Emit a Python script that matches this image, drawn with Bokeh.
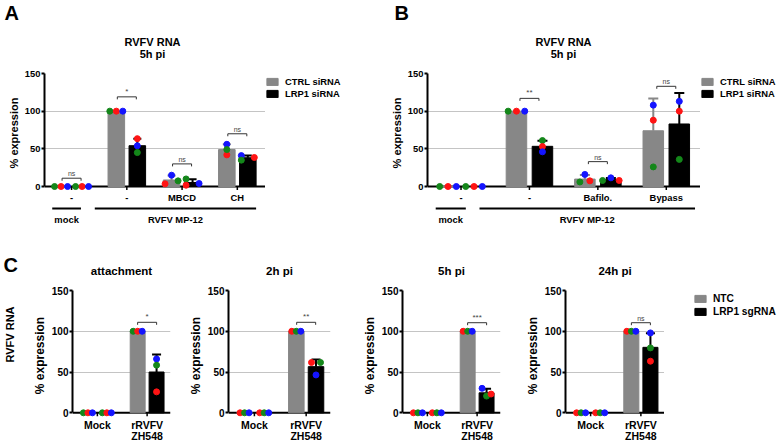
import numpy as np
from bokeh.plotting import figure
from bokeh.models import Range1d, FixedTicker, Span, Legend, LegendItem, ColumnDataSource, Spacer
from bokeh.layouts import row, column
from bokeh.embed import file_html
from bokeh.resources import INLINE
from bokeh.core.properties import value

FONT = "Liberation Sans"
GRAY = "#878787"
DOT = {"g": "#14871a", "r": "#ff1414", "b": "#1414ff"}

# ---------------- data: panel A ----------------
A_CATS = ["-", "-", "MBCD", "CH"]
A_CTRL = [[0, 0, 0], [100, 100, 100], [3.5, 15, 7.5], [42, 56, 49]]
A_CTRL_COL = [["g", "r", "b"], ["g", "r", "b"], ["r", "b", "g"], ["r", "b", "g"]]
A_CTRL_JIT = [[-1, 0, 1], [-1, 0, 1], [-1, 0, 1], [0, 0, 0]]
A_LRP1 = [[0, 0, 0], [63.5, 54, 45], [10, 1.7, 4], [41, 35, 38.5]]
A_LRP1_COL = [["g", "r", "b"], ["r", "b", "g"], ["g", "r", "b"], ["b", "g", "r"]]
A_LRP1_JIT = [[-1, 0, 1], [0, 0, 0], [-1, -1, 1], [-1, -1, 1]]
A_SIG = ["ns", "*", "ns", "ns"]
A_SIG_Y = [11, 119, 30, 70]
A_GROUPS = [("mock", -0.35, 0.17), ("RVFV MP-12", 0.42, 3.34)]
A_LEGEND = ["CTRL siRNA", "LRP1 siRNA"]

# ---------------- data: panel B ----------------
B_CATS = ["-", "-", "Bafilo.", "Bypass"]
B_CTRL = [[0, 0, 0], [100, 100, 100], [6, 16, 7.5], [108, 88, 26]]
B_CTRL_COL = [["g", "r", "b"], ["g", "r", "b"], ["g", "b", "r"], ["b", "r", "g"]]
B_CTRL_JIT = [[-1, 0, 1], [-1, 0, 1], [-0.6, 0, 0.6], [0, 0, 0]]
B_LRP1 = [[0, 0, 0], [61, 53, 46], [8, 11.5, 8], [113, 100, 36]]
B_LRP1_COL = [["g", "r", "b"], ["g", "r", "b"], ["g", "b", "r"], ["b", "r", "g"]]
B_LRP1_JIT = [[-1, 0, 1], [0, 0, 0], [-1, 0, 1], [0, 0, 0]]
B_SIG = [None, "**", "ns", "ns"]
B_SIG_Y = [None, 117, 33, 133]
B_GROUPS = [("mock", -0.37, 0.07), ("RVFV MP-12", 0.27, 3.42)]
B_LEGEND = ["CTRL siRNA", "LRP1 siRNA"]

# ---------------- data: panel C ----------------
C_TITLES = ["attachment", "2h pi", "5h pi", "24h pi"]
C_CATS = ["Mock", "rRVFV"]
C_CATS2 = ["", "ZH548"]
C_NTC = [[[0, 0, 0], [100, 100, 100]]] * 4
C_LRP1 = [[[0, 0, 0], [66, 58.4, 25.7]],
          [[0, 0, 0], [61.7, 46.4, 61.7]],
          [[0, 0, 0], [30, 20.5, 23]],
          [[0, 0, 0], [98, 79.6, 63.3]]]
C_NTC_COL = [[["g", "r", "b"], ["g", "r", "b"]],
             [["r", "g", "b"], ["r", "g", "b"]],
             [["r", "g", "b"], ["r", "g", "b"]],
             [["r", "g", "b"], ["r", "g", "b"]]]
C_LRP1_COL = [[["g", "r", "b"], ["b", "g", "r"]],
              [["r", "g", "b"], ["r", "b", "g"]],
              [["r", "g", "b"], ["b", "g", "r"]],
              [["r", "g", "b"], ["b", "g", "r"]]]
C_NTC_JIT = [[[-1, 0, 1], [-1, 0, 1]]] * 4
C_LRP1_JIT = [[[-1, 0, 1], [0, 0, 0]],
              [[-1, 0, 1], [-1, 0, 1]],
              [[-1, 0, 1], [-1, 0, 1]],
              [[-1, 0, 1], [0, 0, 0]]]
C_SIG = [[None, "*"], [None, "**"], [None, "***"], [None, "ns"]]
C_SIG_Y = [[None, 111], [None, 111], [None, 110.5], [None, 110.5]]
C_LEGEND = ["NTC", "LRP1 sgRNA"]

BAR_W = 0.3
BAR_OFF = 0.19


def blank_fig(width, height, xr=None, yr=None, left=0, right=0):
    p = figure(width=width, height=height,
               x_range=xr if xr is not None else Range1d(0, width),
               y_range=yr if yr is not None else Range1d(height, 0),
               x_axis_location=None, y_axis_location=None, toolbar_location=None,
               output_backend="svg", min_border_left=left, min_border_right=right,
               min_border_top=0, min_border_bottom=0)
    p.outline_line_color = None
    p.xgrid.visible = False
    p.ygrid.visible = False
    return p


def txt(p, x, y, s, size, align="center", baseline="middle", angle=0.0, bold=True, color="black"):
    p.text(x=[x], y=[y], text=[s], angle=angle, text_align=align, text_baseline=baseline,
           text_font=value(FONT), text_font_style="bold" if bold else "normal",
           text_font_size=size, text_color=color)


def plot_fig(width, height, left, right, top, xr, h0, ctrl, ctrl_col, ctrl_jit,
             lrp1, lrp1_col, lrp1_jit, jit_px, sig, sig_y, dot_size, tick_fs, label_fs, cap_px):
    fw = width - left - right
    fh = height - top
    ppx = fw / (xr[1] - xr[0])
    ppy = h0 / 150.0
    xrange = Range1d(*xr)
    p = figure(width=width, height=height, x_range=xrange, y_range=Range1d(150 - fh / ppy, 150),
               x_axis_location=None, y_axis_location="left", toolbar_location=None,
               output_backend="svg", min_border_left=left, min_border_right=right,
               min_border_top=top, min_border_bottom=0)
    p.outline_line_color = None
    p.xgrid.visible = False
    ax = p.yaxis[0]
    ax.ticker = FixedTicker(ticks=[0, 50, 100, 150])
    ax.bounds = (0, 150)
    ax.axis_line_width = 2
    ax.axis_line_color = "black"
    ax.major_tick_line_width = 2
    ax.major_tick_out = 3
    ax.major_tick_in = 0
    ax.minor_tick_out = 0
    ax.minor_tick_in = 0
    ax.major_label_text_font = FONT
    ax.major_label_text_font_style = "bold"
    ax.major_label_text_font_size = tick_fs
    ax.major_label_text_color = "black"
    ax.major_label_standoff = 1
    ax.axis_label = "% expression"
    ax.axis_label_text_font = FONT
    ax.axis_label_text_font_style = "bold"
    ax.axis_label_text_font_size = label_fs
    ax.axis_label_text_color = "black"
    ax.axis_label_standoff = 2
    p.ygrid.ticker = FixedTicker(ticks=[50, 100, 150])
    p.ygrid.grid_line_color = "#c4c4c4"
    p.ygrid.grid_line_width = 1
    p.add_layout(Span(location=0, dimension="width", line_color="black", line_width=2, level="underlay"))

    n = len(ctrl)
    centers = list(range(n))
    for sign, vals_all, col_all, jit_all, color in ((-1, ctrl, ctrl_col, ctrl_jit, GRAY),
                                                    (1, lrp1, lrp1_col, lrp1_jit, "black")):
        xs = [c + sign * BAR_OFF for c in centers]
        means = [float(np.mean(v)) for v in vals_all]
        sds = [float(np.std(v, ddof=1)) for v in vals_all]
        p.vbar(x=xs, top=means, bottom=0, width=BAR_W, fill_color=color, line_color=color)
        ex0, ey0, ex1, ey1 = [], [], [], []
        cap = cap_px / ppx / 2
        for x, m, s in zip(xs, means, sds):
            if s > 0:
                ex0 += [x, x - cap]
                ey0 += [m, m + s]
                ex1 += [x, x + cap]
                ey1 += [m + s, m + s]
        if ex0:
            p.segment(x0=ex0, y0=ey0, x1=ex1, y1=ey1, line_color=color, line_width=2)
        dx, dy, dc = [], [], []
        for x, vals, cols, jits in zip(xs, vals_all, col_all, jit_all):
            for v, c, j in zip(vals, cols, jits):
                dx.append(x + j * jit_px / ppx)
                dy.append(v)
                dc.append(DOT[c])
        src = ColumnDataSource(dict(x=dx, y=dy, c=dc))
        p.scatter(x="x", y="y", size=dot_size, fill_color="c", line_color="c", source=src)

    # x tick marks at group centres
    p.segment(x0=centers, y0=[0] * n, x1=centers, y1=[-3.5 / ppy] * n, line_color="black", line_width=1.5)
    # significance brackets
    half = 9.5 / ppx
    drop = 2.5 / ppy
    for c, s, y in zip(centers, sig, sig_y):
        if s is None:
            continue
        p.segment(x0=[c - half, c - half, c + half], y0=[y, y, y],
                  x1=[c + half, c - half, c + half], y1=[y, y - drop, y - drop],
                  line_color="#333333", line_width=1)
        p.text(x=[c], y=[y + 1 / ppy], text=[s], text_align="center", text_baseline="bottom",
               text_font=value(FONT), text_font_size="7px" if s == "ns" else "8px",
               text_color="#444444")
    return p, xrange


def footer_fig(width, height, left, right, xrange, rows, row_y, fs, groups=None, line_y=None, gtext_y=None):
    p = blank_fig(width, height, xr=xrange, yr=Range1d(height, 0), left=left, right=right)
    for labels, y in zip(rows, row_y):
        n = len(labels)
        p.text(x=list(range(n)), y=[y] * n, text=labels, text_align="center", text_baseline="middle",
               text_font=value(FONT), text_font_style="bold", text_font_size=fs, text_color="black")
    if groups is not None:
        for lab, s, e in groups:
            p.segment(x0=[s], y0=[line_y], x1=[e], y1=[line_y], line_color="black", line_width=2)
            txt(p, (s + e) / 2, gtext_y, lab, fs)
    return p


def legend_fig(width, height, labels, vx, vy, fs, lh):
    p = blank_fig(width, height, xr=Range1d(0, 1), yr=Range1d(0, 1))
    nan = float("nan")
    r1 = p.vbar(x=[nan], top=[nan], width=0.1, fill_color=GRAY, line_color=GRAY)
    r2 = p.vbar(x=[nan], top=[nan], width=0.1, fill_color="black", line_color="black")
    items = [LegendItem(label=value(t), renderers=[r]) for t, r in zip(labels, (r1, r2))]
    lg = Legend(items=items, location=(vx, vy), orientation="vertical", glyph_width=14, glyph_height=9,
                label_standoff=6, spacing=0, padding=0, margin=0, border_line_color=None,
                background_fill_alpha=0, label_text_font=FONT, label_text_font_style="bold",
                label_text_font_size=fs, label_text_color="black", label_height=lh)
    p.add_layout(lg)
    return p


# ================= top row (A, B) =================
header1 = blank_fig(777, 66)
txt(header1, 4, 12.5, "A", "20px", align="left")
txt(header1, 394, 12, "B", "20px", align="left")
for cx in (152, 563):
    txt(header1, cx, 41.5, "RVFV RNA", "11px")
    txt(header1, cx, 53, "5h pi", "11px")

pA, xrA = plot_fig(265, 126, 44, 0, 7, (-0.49, 3.51), 113, A_CTRL, A_CTRL_COL, A_CTRL_JIT,
                   A_LRP1, A_LRP1_COL, A_LRP1_JIT, 6.5, A_SIG, A_SIG_Y, 6, "9.4px", "11px", 8)
legA = legend_fig(118, 126, A_LEGEND, 0, 93, "9.4px", 12)
pB, xrB = plot_fig(317, 126, 44, 0, 7, (-0.49, 3.50), 113, B_CTRL, B_CTRL_COL, B_CTRL_JIT,
                   B_LRP1, B_LRP1_COL, B_LRP1_JIT, 8.3, B_SIG, B_SIG_Y, 6, "9.4px", "11px", 10)
legB = legend_fig(77, 126, B_LEGEND, 0, 93, "9.4px", 12)

footA = footer_fig(265, 36, 44, 0, xrA, [A_CATS], [5], "9.4px", A_GROUPS, 16, 26.5)
footB = footer_fig(317, 36, 44, 0, xrB, [B_CATS], [5], "9.4px", B_GROUPS, 16, 26.5)

# ================= bottom row (C) =================
header2 = blank_fig(777, 56)
txt(header2, 3, 36, "C", "20px", align="left")
for cx, t in zip((121, 279, 451, 614.5), C_TITLES):
    txt(header2, cx, 42, t, "11.5px")

gutter = blank_fig(20, 136)
txt(gutter, 9, 46, "RVFV RNA", "11px", angle=np.pi / 2)

c_specs = [(163, 52, 13), (174, 45, 27), (163, 45, 20), (144, 45, 0)]
c_plots, c_foots = [], []
for k, (w, l, r) in enumerate(c_specs):
    pc, xrc = plot_fig(w, 136, l, r, 6, (-0.5, 1.47), 122.3, C_NTC[k], C_NTC_COL[k], C_NTC_JIT[k],
                       C_LRP1[k], C_LRP1_COL[k], C_LRP1_JIT[k], 4.5, C_SIG[k], C_SIG_Y[k],
                       6, "10px", "12px", 9)
    c_plots.append(pc)
    c_foots.append(footer_fig(w, 20, l, r, xrc, [C_CATS, C_CATS2], [4, 15], "10.5px"))
legC = legend_fig(113, 136, C_LEGEND, 29, 102, "10.2px", 13)

layout = column(
    header1,
    row(pA, legA, pB, legB),
    row(footA, Spacer(width=118, height=36), footB, Spacer(width=77, height=36)),
    header2,
    row(gutter, *c_plots, legC),
    row(Spacer(width=20, height=20), *c_foots, Spacer(width=113, height=20)),
)
open("out.html", "w").write(file_html(layout, INLINE))
